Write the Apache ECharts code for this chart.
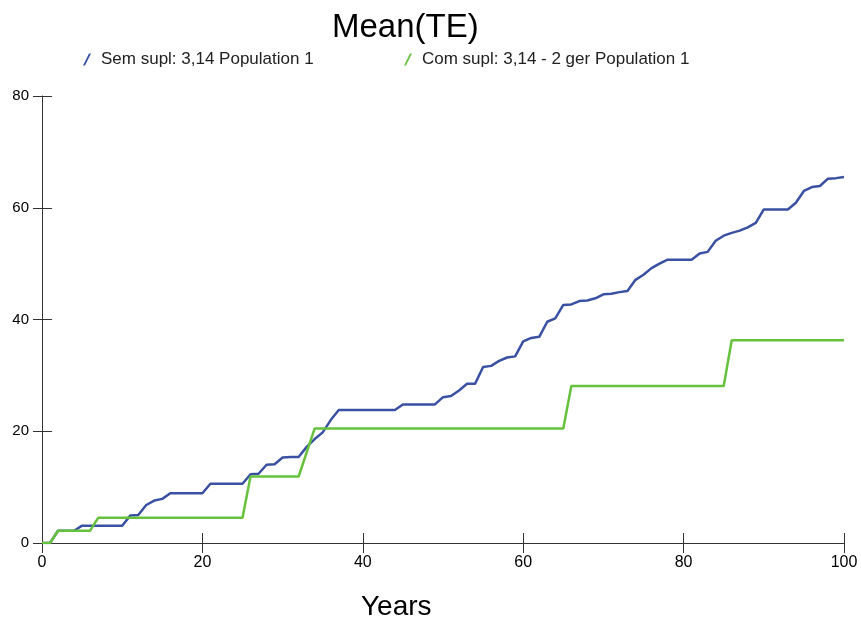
<!DOCTYPE html>
<html>

<head>
    <meta charset="utf-8">
    <title>Mean(TE)</title>
    <script src="https://cdn.jsdelivr.net/npm/echarts@6/dist/echarts.min.js"></script>
</head>

<body style="margin:0;background:#fff;">
    <div id="main" style="width: 861px;height:619px;"></div>
    <script type="text/javascript">
        // valores
        var titleText = 'Mean(TE)';
        var xName = 'Years';
        var semName = 'Sem supl: 3,14 Population 1';
        var comName = 'Com supl: 3,14 - 2 ger Population 1';

        // azul: um valor por ano, 0..100
        var semValues = [
            0, 0, 2.2, 2.2, 2.2, 3.1, 3.1, 3.1, 3.1, 3.1,
            3.1, 4.9, 5.0, 6.8, 7.6, 7.9, 8.9, 8.9, 8.9, 8.9,
            8.9, 10.6, 10.6, 10.6, 10.6, 10.6, 12.3, 12.4, 14.0, 14.1,
            15.3, 15.4, 15.4, 17.2, 18.6, 19.8, 22.0, 23.8, 23.8, 23.8,
            23.8, 23.8, 23.8, 23.8, 23.8, 24.8, 24.8, 24.8, 24.8, 24.8,
            26.1, 26.3, 27.3, 28.5, 28.5, 31.5, 31.7, 32.6, 33.2, 33.4,
            36.1, 36.7, 36.9, 39.6, 40.2, 42.6, 42.7, 43.3, 43.4, 43.8,
            44.5, 44.6, 44.9, 45.1, 47.1, 48.0, 49.2, 50.0, 50.7, 50.7,
            50.7, 50.7, 51.8, 52.1, 54.1, 55.0, 55.5, 55.9, 56.5, 57.3,
            59.7, 59.7, 59.7, 59.7, 60.9, 63.0, 63.7, 63.9, 65.2, 65.3,
            65.5
        ];

        // verde: pontos onde muda
        var comYears = [0, 1, 2, 6, 7, 25, 26, 32, 34, 65, 66, 85, 86, 100];
        var comValues = [0, 0, 2.2, 2.2, 4.5, 4.5, 11.9, 11.9, 20.5, 20.5, 28.1, 28.1, 36.3, 36.3];

        var xTicks = [0, 20, 40, 60, 80, 100];
        var yTicks = [0, 20, 40, 60, 80];

        var semData = semValues.map(function (v, i) { return [i, v]; });
        var comData = comYears.map(function (y, i) { return [y, comValues[i]]; });

        var slash = 'path://M0,12 L6,0 L8,0 L2,12 Z';
        var font = 'Liberation Sans, Arial, sans-serif';

        var axisLine = { lineStyle: { color: '#333', width: 1 } };

        var myChart = echarts.init(document.getElementById('main'));
        var option = {
            animation: false,
            backgroundColor: '#fff',
            title: [{
                text: titleText,
                left: 327,
                top: 6,
                textStyle: { fontFamily: font, fontSize: 33, fontWeight: 'normal', color: '#000' }
            }, {
                text: xName,
                left: 356,
                top: 588,
                textStyle: { fontFamily: font, fontSize: 28, fontWeight: 'normal', color: '#000' }
            }],
            legend: [{
                data: [semName],
                left: 78,
                top: 46,
                icon: slash,
                itemWidth: 18,
                itemHeight: 12,
                textStyle: { fontFamily: font, fontSize: 17, color: '#222' }
            }, {
                data: [comName],
                left: 399,
                top: 46,
                icon: slash,
                itemWidth: 18,
                itemHeight: 12,
                textStyle: { fontFamily: font, fontSize: 17, color: '#222' }
            }],
            grid: { left: 42, right: 17, top: 96, bottom: 76 },
            xAxis: [{
                type: 'value', position: 'bottom', min: 0, max: 100, interval: 20,
                axisLine: axisLine,
                axisTick: { show: true, inside: false, length: 10, lineStyle: { color: '#333' } },
                axisLabel: {
                    margin: 12, color: '#000', fontFamily: font, fontSize: 16,
                    customValues: xTicks
                },
                splitLine: { show: false }
            }, {
                type: 'value', position: 'bottom', min: 0, max: 100, interval: 20,
                axisLine: { show: false },
                axisTick: { show: true, inside: true, length: 10, lineStyle: { color: '#333' } },
                axisLabel: { show: false },
                splitLine: { show: false }
            }],
            yAxis: [{
                type: 'value', position: 'left', min: 0, max: 80, interval: 20,
                axisLine: axisLine,
                axisTick: { show: true, inside: false, length: 9, lineStyle: { color: '#333' } },
                axisLabel: {
                    margin: 13, color: '#000', fontFamily: font, fontSize: 15,
                    customValues: yTicks
                },
                splitLine: { show: false }
            }, {
                type: 'value', position: 'left', min: 0, max: 80, interval: 20,
                axisLine: { show: false },
                axisTick: { show: true, inside: true, length: 10, lineStyle: { color: '#333' } },
                axisLabel: { show: false },
                splitLine: { show: false }
            }],
            series: [{
                name: semName,
                type: 'line',
                data: semData,
                showSymbol: false,
                color: '#3a50a2',
                lineStyle: { width: 2.5 }
            }, {
                name: comName,
                type: 'line',
                data: comData,
                showSymbol: false,
                color: '#66c23d',
                lineStyle: { width: 2.5 }
            }]
        };

        myChart.setOption(option);
    </script>
</body>

</html>
